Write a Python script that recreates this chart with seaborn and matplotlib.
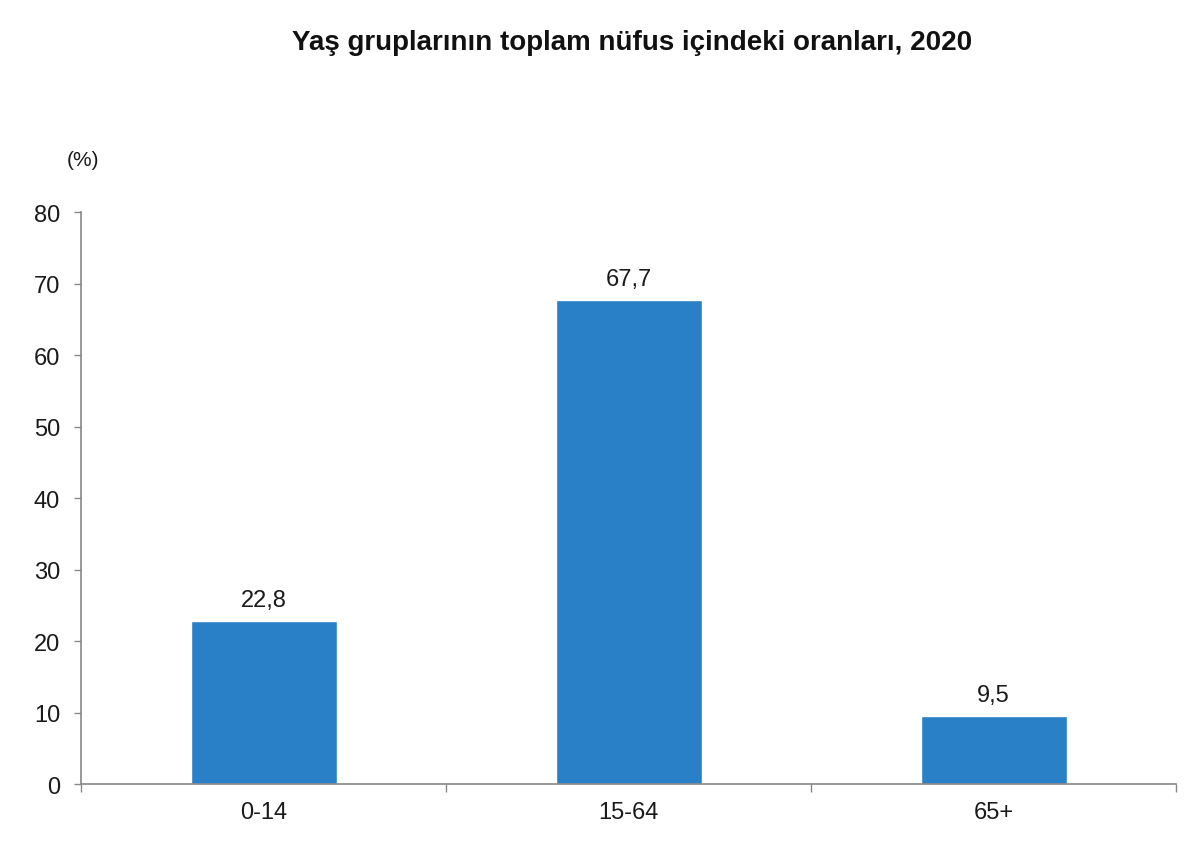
import matplotlib.pyplot as plt
import seaborn as sns
import pandas as pd
from matplotlib.ticker import FixedLocator

# data
age_groups = ["0-14", "15-64", "65+"]
shares = [22.8, 67.7, 9.5]
value_labels = ["22,8", "67,7", "9,5"]
title = "Yaş gruplarının toplam nüfus içindeki oranları, 2020"

sns.set_style("white")
plt.rcParams["font.family"] = ["Liberation Sans", "DejaVu Sans"]

df = pd.DataFrame({"grup": age_groups, "oran": shares})

fig = plt.figure(figsize=(12, 8.62), dpi=100)
ax = fig.add_axes([0.0675, 0.0893, 0.9125, 0.6636])

sns.barplot(data=df, x="grup", y="oran", color="#2A80C6", saturation=1,
            width=0.4, ax=ax)

ax.set_ylim(0, 80)
ax.set_xlim(-0.5, 2.5)
ax.set_yticks(range(0, 81, 10))
ax.tick_params(axis="y", labelsize=17, length=5, color="#888888", pad=10,
               left=True, direction="out", width=1, labelcolor="#1a1a1a")
ax.tick_params(axis="x", labelsize=17, length=0, pad=12, labelcolor="#1a1a1a")
ax.xaxis.set_minor_locator(FixedLocator([-0.5, 0.5, 1.5, 2.5]))
ax.tick_params(axis="x", which="minor", bottom=True, length=6,
               color="#888888", width=1, direction="out")
ax.set_xlabel("")
ax.set_ylabel("")

for side in ["top", "right"]:
    ax.spines[side].set_visible(False)
for side in ["left", "bottom"]:
    ax.spines[side].set_color("#888888")
    ax.spines[side].set_linewidth(1.2)

for i, (v, lab) in enumerate(zip(shares, value_labels)):
    ax.text(i, v + 1.4, lab, ha="center", va="bottom", fontsize=17,
            color="#1a1a1a")

fig.text(0.069, 0.814, "(%)", fontsize=15, ha="center", va="center",
         color="#1a1a1a")
fig.text(0.527, 0.95, title, fontsize=20, fontweight="bold",
         ha="center", va="center", color="#111111")

fig.savefig("out.png", dpi=100, facecolor="white")
